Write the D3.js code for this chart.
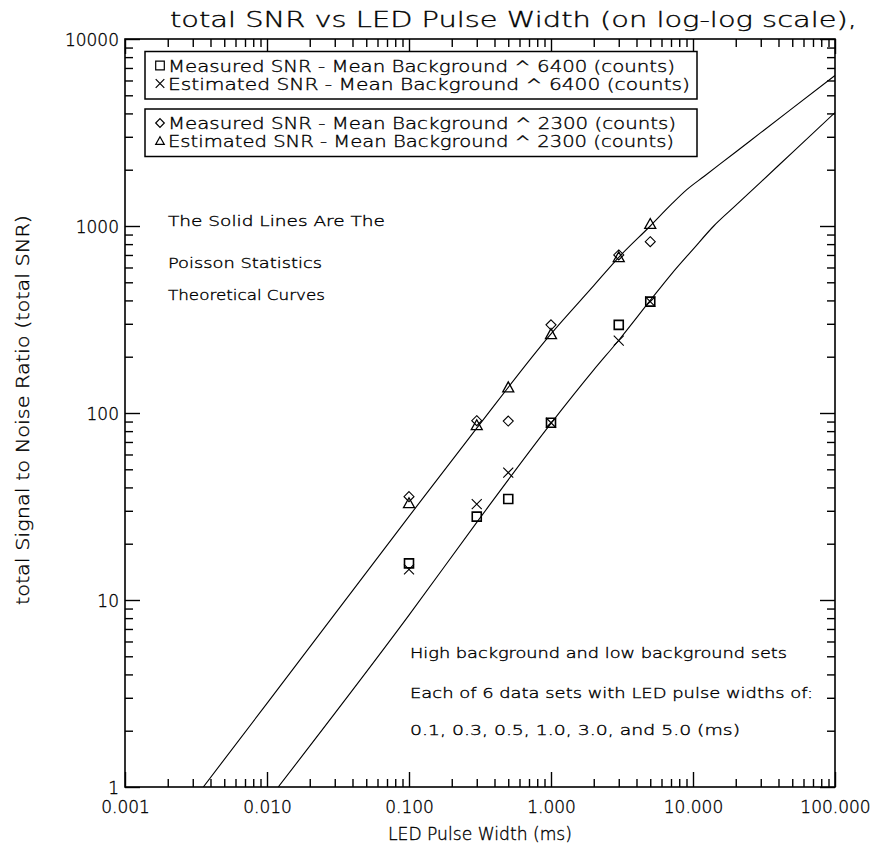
<!DOCTYPE html>
<html>
<head>
<meta charset="utf-8">
<script src="https://cdn.jsdelivr.net/npm/d3@7"></script>
<style>
  html, body { margin: 0; padding: 0; background: #fff; }
  svg { display: block; }
  text { font-family: "DejaVu Sans", "Liberation Sans", sans-serif; font-weight: 200;
         fill: #000; stroke: #000; stroke-width: 0.35px; }
</style>
</head>
<body>
<svg id="chart" width="876" height="861"></svg>
<script>
// LED pulse widths (ms) used for every data set
const pulseWidths = [0.1, 0.3, 0.5, 1.0, 3.0, 5.0];

// Mean background ~6400 counts
const measuredHighBg  = [15.7, 27.9, 34.7, 88.7, 296, 394];
const estimatedHighBg = [14.6, 32.6, 48.0, 88.7, 244, 394];

// Mean background ~2300 counts
const measuredLowBg  = [35.7, 91.0, 90.6, 296, 700, 824];
const estimatedLowBg = [32.9, 86.0, 137, 264, 680, 1025];

// Poisson statistics theoretical curves
const theoryLowBgX  = [0.00356, 0.01, 0.1, 0.3, 1, 2, 3, 5, 7, 9, 12, 20, 30, 50, 100];
const theoryLowBgY  = [1, 2.8, 28, 83, 265, 480, 680, 1000, 1300, 1560, 1846, 2488, 3155, 4254, 6380];
const theoryHighBgX = [0.012, 0.1, 0.3, 1, 2, 3, 5, 7, 10, 14, 20, 30, 50, 100];
const theoryHighBgY = [1, 8.3, 26, 88, 170, 245, 400, 550, 750, 1000, 1288, 1718, 2469, 4040];

// Axis ticks
const xMajorTicks  = [0.001, 0.01, 0.1, 1, 10, 100];
const xTickLabels  = ["0.001", "0.010", "0.100", "1.000", "10.000", "100.000"];
const yMajorTicks  = [1, 10, 100, 1000, 10000];
const yTickLabels  = ["1", "10", "100", "1000", "10000"];

const titleText  = "total SNR vs LED Pulse Width (on log-log scale),";
const xTitle     = "LED Pulse Width (ms)";
const yTitle     = "total Signal to Noise Ratio (total SNR)";
const legendHigh = ["Measured SNR - Mean Background ^ 6400 (counts)",
                    "Estimated SNR  - Mean Background ^ 6400 (counts)"];
const legendLow  = ["Measured SNR - Mean Background ^ 2300 (counts)",
                    "Estimated SNR - Mean Background ^ 2300 (counts)"];
const noteLeft   = ["The Solid Lines  Are The", "Poisson Statistics", "Theoretical Curves"];
const noteRight  = ["High background and low background sets",
                    "Each of 6 data sets with LED pulse widths of:",
                    "0.1, 0.3, 0.5, 1.0, 3.0, and 5.0 (ms)"];

const svg = d3.select("#chart");
svg.append("rect").attr("width", 876).attr("height", 861).attr("fill", "#fff");

const L = 125, R = 835, T = 39, B = 787;
const x = d3.scaleLog().domain([0.001, 100]).range([L, R]);
const y = d3.scaleLog().domain([1, 10000]).range([B, T]);

function minorTicks(domain) {
  const out = [];
  for (let e = Math.log10(domain[0]); e < Math.log10(domain[1]); e++) {
    for (let m = 2; m <= 9; m++) out.push(m * Math.pow(10, e));
  }
  return out;
}
const xMinor = minorTicks(x.domain());
const yMinor = minorTicks(y.domain());

// Tick marks on all four sides, pointing into the plot
function tickAxis(gen, pos, values, size, labels) {
  const a = gen.tickValues(values).tickSizeInner(size).tickSizeOuter(0)
    .tickFormat(labels ? (d, i) => labels[i] : () => "");
  const g = svg.append("g").attr("transform", pos).call(a);
  g.select(".domain").remove();
  g.selectAll(".tick line").attr("stroke", "#000").attr("stroke-width", 1.4);
  if (!labels) g.selectAll(".tick text").remove();
  return g;
}
const bx = tickAxis(d3.axisBottom(x), `translate(0,${B})`, xMajorTicks, -15, xTickLabels);
tickAxis(d3.axisBottom(x), `translate(0,${B})`, xMinor, -8, null);
tickAxis(d3.axisTop(x), `translate(0,${T})`, xMajorTicks, -15, null);
tickAxis(d3.axisTop(x), `translate(0,${T})`, xMinor, -8, null);
const ly = tickAxis(d3.axisLeft(y), `translate(${L},0)`, yMajorTicks, -15, yTickLabels);
tickAxis(d3.axisLeft(y), `translate(${L},0)`, yMinor, -8, null);
tickAxis(d3.axisRight(y), `translate(${R},0)`, yMajorTicks, -15, null);
tickAxis(d3.axisRight(y), `translate(${R},0)`, yMinor, -8, null);

[bx, ly].forEach(g => g.selectAll(".tick text")
  .style("font-size", "17px").style("font-family", "DejaVu Sans").style("font-weight", 200)
  .attr("fill", "#000").attr("stroke", "#000").attr("stroke-width", 0.35));
bx.selectAll(".tick text").attr("y", 14).attr("dy", "0.71em");
ly.selectAll(".tick text").attr("x", -6).attr("dy", "0.36em").attr("text-anchor", "end");

// Frame
svg.append("rect").attr("x", L).attr("y", T).attr("width", R - L).attr("height", B - T)
  .attr("fill", "none").attr("stroke", "#000").attr("stroke-width", 1.6);

// Titles
function fitText(sel, w) {
  return sel.attr("textLength", w).attr("lengthAdjust", "spacingAndGlyphs");
}
fitText(svg.append("text").attr("x", 170).attr("y", 27).text(titleText)
  .style("font-size", "21px"), 687);
fitText(svg.append("text").attr("x", 388).attr("y", 840).text(xTitle)
  .style("font-size", "17px"), 184);
fitText(svg.append("text").attr("transform", "translate(29,605) rotate(-90)")
  .text(yTitle).style("font-size", "17px"), 390);

// Theory curves
svg.append("clipPath").attr("id", "plotClip").append("rect")
  .attr("x", L).attr("y", T).attr("width", R - L).attr("height", B - T);
const line = d3.line().x(d => x(d[0])).y(d => y(d[1])).curve(d3.curveMonotoneX);
[[theoryLowBgX, theoryLowBgY], [theoryHighBgX, theoryHighBgY]].forEach(([xs, ys]) => {
  svg.append("path").attr("clip-path", "url(#plotClip)")
    .attr("d", line(xs.map((v, i) => [v, ys[i]])))
    .attr("fill", "none").attr("stroke", "#000").attr("stroke-width", 1.1);
});

// Marker shapes
const shapes = {
  square:   s => `M${-s},${-s}H${s}V${s}H${-s}Z`,
  cross:    s => `M${-s},${-s}L${s},${s}M${s},${-s}L${-s},${s}`,
  diamond:  s => `M0,${-s}L${s},0L0,${s}L${-s},0Z`,
  triangle: s => `M0,${-s}L${s},${s * 0.8}L${-s},${s * 0.8}Z`
};
const series = [
  { vals: measuredHighBg,  shape: "square",   size: 4.5, sw: 1.6 },
  { vals: estimatedHighBg, shape: "cross",    size: 5,   sw: 1.1 },
  { vals: measuredLowBg,   shape: "diamond",  size: 5,   sw: 1.1 },
  { vals: estimatedLowBg,  shape: "triangle", size: 5.5, sw: 1.3 }
];
series.forEach(s => {
  svg.append("g").selectAll("path").data(s.vals).join("path")
    .attr("transform", (d, i) => `translate(${x(pulseWidths[i])},${y(d)})`)
    .attr("d", shapes[s.shape](s.size))
    .attr("fill", "none").attr("stroke", "#000").attr("stroke-width", s.sw);
});

// Legend boxes
function legendBox(top, rows, shapeNames, widths) {
  svg.append("rect").attr("x", 145).attr("y", top).attr("width", 552).attr("height", 47.5)
    .attr("fill", "#fff").attr("stroke", "#000").attr("stroke-width", 1.5);
  rows.forEach((t, i) => {
    const cy = top + 14 + i * 18;
    svg.append("path").attr("transform", `translate(160,${cy})`)
      .attr("d", shapes[shapeNames[i]](4.3))
      .attr("fill", "none").attr("stroke", "#000").attr("stroke-width", 1.2);
    fitText(svg.append("text").attr("x", 168).attr("y", cy + 6).text(t)
      .style("font-size", "16px"), widths[i]);
  });
}
legendBox(51.5, legendHigh, ["square", "cross"], [507, 522]);
legendBox(109, legendLow, ["diamond", "triangle"], [508, 506]);

// Notes
const leftW = [217, 154, 157];
noteLeft.forEach((t, i) => {
  fitText(svg.append("text").attr("x", 168).attr("y", [226, 268, 300][i]).text(t)
    .style("font-size", "14px"), leftW[i]);
});
const rightW = [377, 403, 330];
noteRight.forEach((t, i) => {
  fitText(svg.append("text").attr("x", 410).attr("y", [658, 698, 735][i]).text(t)
    .style("font-size", "14px"), rightW[i]);
});
</script>
</body>
</html>
